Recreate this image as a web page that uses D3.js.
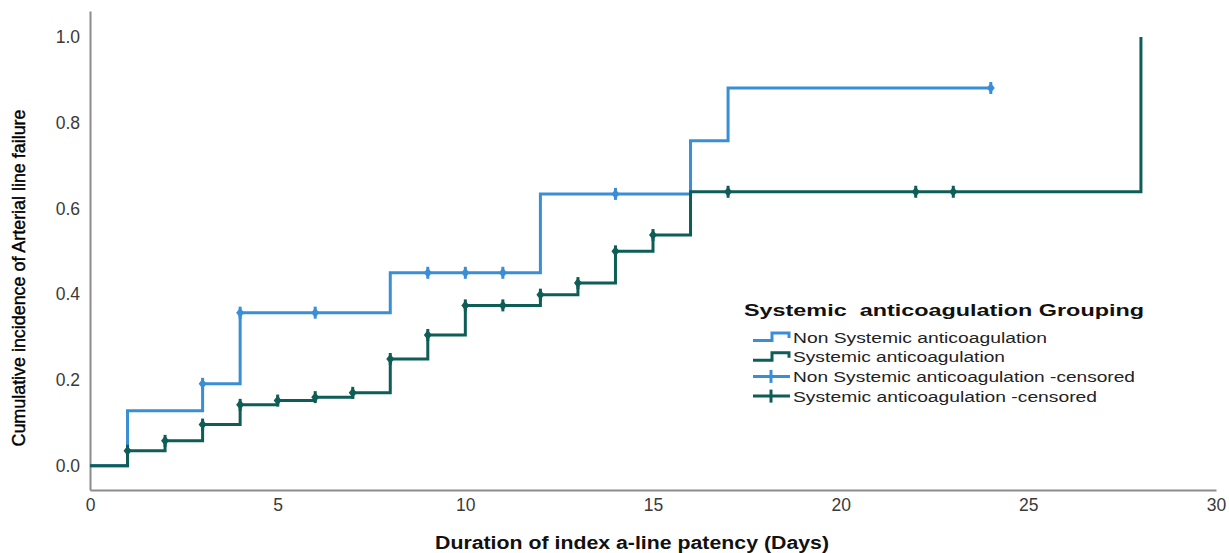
<!DOCTYPE html>
<html>
<head>
<meta charset="utf-8">
<script src="https://cdn.jsdelivr.net/npm/d3@7"></script>
<style>
  body { margin: 0; background: #fff; }
  text { font-family: "Liberation Sans", Arial, sans-serif; }
</style>
</head>
<body>
<div id="viz"></div>
<script>
var width = 1229;
var height = 553;

// cumulative incidence (days, value after the step)
var nonSysTimes = [0, 1, 3, 4, 8, 12, 16, 17, 24];
var nonSysValues = [0, 0.128, 0.191, 0.357, 0.45, 0.634, 0.758, 0.881, 0.881];
var nonSysCensored = [3, 4, 6, 9, 10, 11, 14, 24];

var sysTimes = [0, 1, 2, 3, 4, 5, 6, 7, 8, 9, 10, 12, 13, 14, 15, 16, 28];
var sysValues = [0, 0.035, 0.058, 0.096, 0.142, 0.152, 0.16, 0.17, 0.249, 0.305, 0.374, 0.399, 0.426, 0.5, 0.538, 0.639, 1.0];
var sysCensored = [1, 2, 3, 4, 5, 6, 7, 8, 9, 10, 11, 12, 13, 14, 15, 17, 22, 23];

var xTicks = [0, 5, 10, 15, 20, 25, 30];
var yTicks = [0, 0.2, 0.4, 0.6, 0.8, 1.0];

var legendLabels = [
  'Non Systemic anticoagulation',
  'Systemic anticoagulation',
  'Non Systemic anticoagulation -censored',
  'Systemic anticoagulation -censored'
];

var blue = '#3a8ed6';
var green = '#0e5d56';

var x = d3.scaleLinear().domain([0, 30]).range([90, 1216]);
var y = d3.scaleLinear().domain([-0.0566, 1.0606]).range([490, 11]);

var svg = d3.select('#viz').append('svg')
  .attr('width', width)
  .attr('height', height);

// axes
var xAxis = svg.append('g')
  .attr('transform', 'translate(0,490)')
  .call(d3.axisBottom(x).tickValues(xTicks).tickSize(0).tickPadding(8).tickFormat(d3.format('d')));
var yAxis = svg.append('g')
  .attr('transform', 'translate(90,0)')
  .call(d3.axisLeft(y).tickValues(yTicks).tickSize(0).tickPadding(10).tickFormat(d3.format('.1f')));

[xAxis, yAxis].forEach(function (ax) {
  ax.select('.domain').attr('stroke', '#8c8c8c').attr('stroke-width', 2);
  ax.selectAll('text')
    .style('font-family', '"Liberation Sans", Arial, sans-serif')
    .style('font-size', '17.5px')
    .attr('fill', '#3a3a3a');
});
xAxis.selectAll('text').attr('dy', '0.75em');

function series(times, values) {
  return times.map(function (t, i) { return [t, values[i]]; });
}

function valueAt(times, values, t) {
  var i = d3.bisectRight(times, t) - 1;
  return values[Math.max(0, i)];
}

var line = d3.line()
  .x(function (d) { return x(d[0]); })
  .y(function (d) { return y(d[1]); })
  .curve(d3.curveStepAfter);

var groups = [
  { color: blue, times: nonSysTimes, values: nonSysValues, censored: nonSysCensored },
  { color: green, times: sysTimes, values: sysValues, censored: sysCensored }
];

groups.forEach(function (g) {
  svg.append('path')
    .datum(series(g.times, g.values))
    .attr('d', line)
    .attr('fill', 'none')
    .attr('stroke', g.color)
    .attr('stroke-width', 3);

  var marks = svg.append('g').selectAll('g')
    .data(g.censored).enter()
    .append('g')
    .attr('transform', function (t) {
      return 'translate(' + x(t) + ',' + y(valueAt(g.times, g.values, t)) + ')';
    });
  marks.append('line')
    .attr('y1', -6).attr('y2', 6)
    .attr('stroke', g.color)
    .attr('stroke-width', 3);
  marks.append('path')
    .attr('d', 'M0,-5L4,0L0,5L-4,0Z')
    .attr('fill', g.color);
});

// axis titles
svg.append('text')
  .attr('x', 632)
  .attr('y', 549)
  .attr('text-anchor', 'middle')
  .attr('textLength', 394)
  .attr('lengthAdjust', 'spacingAndGlyphs')
  .style('font-size', '18px')
  .style('font-weight', 'bold')
  .attr('fill', '#111')
  .text('Duration of index a-line patency (Days)');

svg.append('text')
  .attr('transform', 'translate(25,278) rotate(-90)')
  .attr('text-anchor', 'middle')
  .attr('textLength', 337)
  .attr('lengthAdjust', 'spacingAndGlyphs')
  .style('font-size', '19px')
  .attr('fill', '#000')
  .attr('stroke', '#000')
  .attr('stroke-width', 0.4)
  .text('Cumulative incidence of Arterial line failure');

// legend
var legend = svg.append('g').attr('transform', 'translate(744,0)');
legend.append('text')
  .attr('x', 0)
  .attr('y', 316)
  .attr('textLength', 400)
  .attr('lengthAdjust', 'spacingAndGlyphs')
  .style('font-size', '17px')
  .style('font-weight', 'bold')
  .attr('fill', '#111')
  .style('white-space', 'pre')
  .text('Systemic  anticoagulation Grouping');

var legendWidths = [254, 212, 342, 304];
var legendColors = [blue, green, blue, green];
var rows = legend.selectAll('g.row')
  .data(legendLabels).enter()
  .append('g')
  .attr('class', 'row')
  .attr('transform', function (d, i) { return 'translate(0,' + (337 + i * 19.7) + ')'; });

rows.each(function (d, i) {
  var r = d3.select(this);
  var c = legendColors[i];
  if (i < 2) {
    r.append('path')
      .attr('d', 'M9,3.5H28V-4H45V1')
      .attr('fill', 'none')
      .attr('stroke', c)
      .attr('stroke-width', 3);
  } else {
    r.append('line').attr('x1', 9).attr('x2', 46)
      .attr('stroke', c).attr('stroke-width', 3);
    r.append('line').attr('x1', 27).attr('x2', 27).attr('y1', -6.5).attr('y2', 6.5)
      .attr('stroke', c).attr('stroke-width', 3);
  }
  r.append('text')
    .attr('x', 49)
    .attr('y', 5.5)
    .attr('textLength', legendWidths[i])
    .attr('lengthAdjust', 'spacingAndGlyphs')
    .style('font-size', '15.5px')
    .attr('fill', '#222')
    .text(d);
});
</script>
</body>
</html>
